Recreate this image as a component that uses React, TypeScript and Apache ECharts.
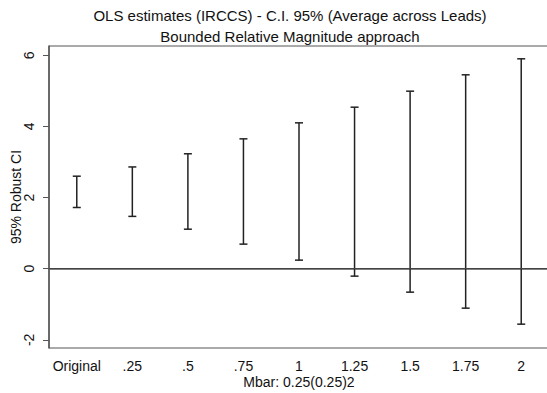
import React, { useEffect, useRef } from "react";
import * as echarts from "echarts";

const categories = ["Original", ".25", ".5", ".75", "1", "1.25", "1.5", "1.75", "2"];
const lowerCI = [1.72, 1.47, 1.11, 0.69, 0.24, -0.21, -0.66, -1.11, -1.56];
const upperCI = [2.6, 2.86, 3.23, 3.65, 4.1, 4.54, 4.99, 5.45, 5.9];
const yTicks = [-2, 0, 2, 4, 6];

const titleLine1 = "OLS estimates (IRCCS) - C.I. 95% (Average across Leads)";
const titleLine2 = "Bounded Relative Magnitude approach";
const yName = "95% Robust CI";
const xName = "Mbar: 0.25(0.25)2";

const FONT = "Liberation Sans, Arial, sans-serif";

export default function App() {
  const ref = useRef<HTMLDivElement>(null);
  useEffect(() => {
    if (!ref.current) return;
    const chart = echarts.init(ref.current, undefined, { renderer: "svg" });
    const data = categories.map((_, i) => [i, lowerCI[i], upperCI[i]]);
    chart.setOption({
      animation: false,
      backgroundColor: "#fff",
      textStyle: { fontFamily: FONT },
      title: [
        {
          text: titleLine1,
          left: 285,
          top: 3,
          textAlign: "center",
          textStyle: { fontSize: 15, fontWeight: "normal", color: "#111", fontFamily: FONT },
        },
        {
          text: titleLine2,
          left: 285,
          top: 24,
          textAlign: "center",
          textStyle: { fontSize: 15, fontWeight: "normal", color: "#111", fontFamily: FONT },
        },
      ],
      grid: {
        left: 49,
        top: 46,
        width: 500,
        height: 302,
        outerBoundsMode: "none",
        containLabel: false,
        show: true,
        borderColor: "#555",
        borderWidth: 1,
        backgroundColor: "transparent",
      },
      xAxis: {
        type: "category",
        data: categories,
        boundaryGap: true,
        name: xName,
        nameLocation: "middle",
        nameGap: 27,
        nameMoveOverlap: false,
        nameTextStyle: { fontSize: 14, color: "#111", fontFamily: FONT },
        axisLine: { lineStyle: { color: "#555", width: 1.5 } },
        axisTick: { alignWithLabel: true, length: 5, lineStyle: { color: "#555" } },
        axisLabel: { fontSize: 14, color: "#111", margin: 11, interval: 0, fontFamily: FONT },
        splitLine: { show: false },
      },
      yAxis: {
        type: "value",
        min: -2.23,
        max: 6.26,
        name: yName,
        nameLocation: "middle",
        nameGap: 26,
        nameRotate: 90,
        nameMoveOverlap: false,
        nameTextStyle: { fontSize: 14, color: "#111", fontFamily: FONT },
        axisLine: { show: true, lineStyle: { color: "#555", width: 1.5 } },
        axisTick: { show: true, length: 6, customValues: yTicks, lineStyle: { color: "#555" } },
        axisLabel: {
          fontSize: 14,
          color: "#111",
          rotate: 90,
          margin: 13,
          customValues: yTicks,
          fontFamily: FONT,
        },
        splitLine: { show: false },
      },
      series: [
        {
          type: "custom",
          data,
          renderItem: (params: any, api: any) => {
            const x = api.value(0);
            const lo = api.coord([x, api.value(1)]);
            const hi = api.coord([x, api.value(2)]);
            const cap = 4;
            const style = { stroke: "#222", lineWidth: 1.5 };
            return {
              type: "group",
              children: [
                { type: "line", shape: { x1: hi[0], y1: hi[1], x2: lo[0], y2: lo[1] }, style },
                { type: "line", shape: { x1: hi[0] - cap, y1: hi[1], x2: hi[0] + cap, y2: hi[1] }, style },
                { type: "line", shape: { x1: lo[0] - cap, y1: lo[1], x2: lo[0] + cap, y2: lo[1] }, style },
              ],
            };
          },
          markLine: {
            silent: true,
            symbol: "none",
            label: { show: false },
            lineStyle: { color: "#444", width: 1, type: "solid" },
            data: [{ yAxis: 0 }],
          },
          z: 3,
        },
      ],
    });
    return () => chart.dispose();
  }, []);
  return <div ref={ref} style={{ width: 547, height: 393, position: "absolute", left: 0, top: 0 }} />;
}
